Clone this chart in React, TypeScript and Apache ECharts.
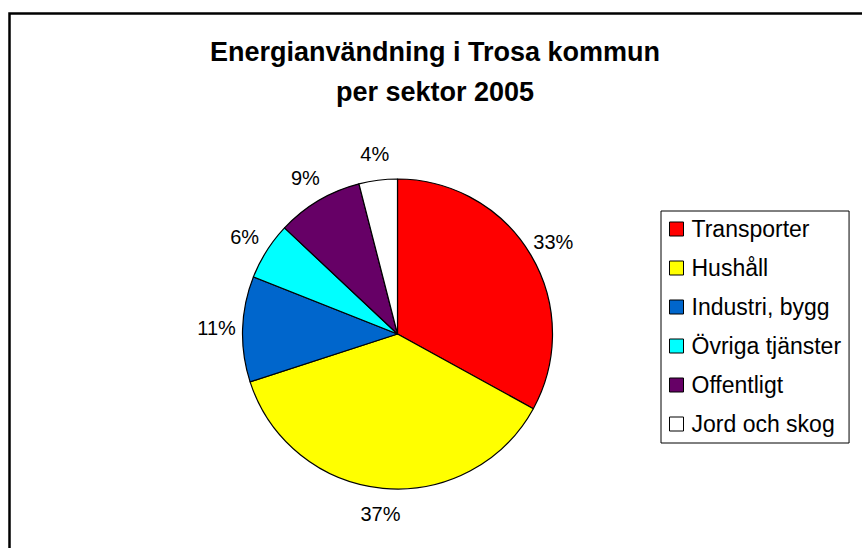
import React, { useEffect, useRef } from "react";
import * as echarts from "echarts";

const titleLines = ["Energianvändning i Trosa kommun", "per sektor 2005"];
const categories = ["Transporter", "Hushåll", "Industri, bygg", "Övriga tjänster", "Offentligt", "Jord och skog"];
const values = [33, 37, 11, 6, 9, 4];
const colors = ["#FF0000", "#FFFF00", "#0066CC", "#00FFFF", "#660066", "#FFFFFF"];

const FONT = "'Liberation Sans', Arial, sans-serif";
const CX = 397.5;
const CY = 334;
const RADIUS = 155;
const LABEL_R = 181;

export default function App() {
  const ref = useRef<HTMLDivElement>(null);
  useEffect(() => {
    if (!ref.current) return;
    const chart = echarts.init(ref.current, undefined, { renderer: "svg" });
    const total = values.reduce((a, b) => a + b, 0);
    const mids: number[] = [];
    let acc = 0;
    values.forEach((v) => {
      mids.push(((acc + v / 2) / total) * Math.PI * 2);
      acc += v;
    });
    chart.setOption({
      animation: false,
      backgroundColor: "#FFFFFF",
      graphic: [
        {
          type: "rect",
          shape: { x: 9.5, y: 13.5, width: 1000, height: 1000 },
          style: { fill: "none", stroke: "#000", lineWidth: 2.5 },
          silent: true,
        },
      ],
      title: {
        text: titleLines.join("\n"),
        left: 430,
        top: 27,
        textAlign: "center",
        textStyle: {
          fontFamily: FONT,
          fontSize: 27,
          fontWeight: "bold",
          color: "#000",
          lineHeight: 40,
        },
      },
      legend: {
        orient: "vertical",
        left: 661,
        top: 211,
        data: categories,
        icon: "rect",
        itemWidth: 14,
        itemHeight: 14,
        itemGap: 15,
        itemStyle: { borderColor: "#000", borderWidth: 1 },
        padding: [6, 8, 7, 8],
        borderColor: "#000",
        borderWidth: 1,
        textStyle: { fontFamily: FONT, fontSize: 23, color: "#000", lineHeight: 24, padding: [0, 0, 0, 3] },
        selectedMode: false,
      },
      series: [
        {
          type: "pie",
          center: [CX, CY],
          radius: RADIUS,
          startAngle: 90,
          clockwise: true,
          avoidLabelOverlap: false,
          data: categories.map((c, i) => ({
            name: c,
            value: values[i],
            itemStyle: { color: colors[i] },
          })),
          itemStyle: { borderColor: "#000", borderWidth: 1.2 },
          label: {
            show: true,
            position: "outside",
            formatter: (p: any) => `${p.value}%`,
            fontFamily: FONT,
            fontSize: 20,
            color: "#000",
          },
          labelLine: { show: false },
          labelLayout: (params: any) => {
            const a = mids[params.dataIndex];
            return {
              x: CX + LABEL_R * Math.sin(a),
              y: CY - LABEL_R * Math.cos(a),
              align: "center",
              verticalAlign: "middle",
            };
          },
          emphasis: { disabled: true },
        },
      ],
    });
    return () => chart.dispose();
  }, []);
  return (
    <div
      ref={ref}
      style={{ position: "absolute", left: 0, top: 0, width: 862, height: 548 }}
    />
  );
}
